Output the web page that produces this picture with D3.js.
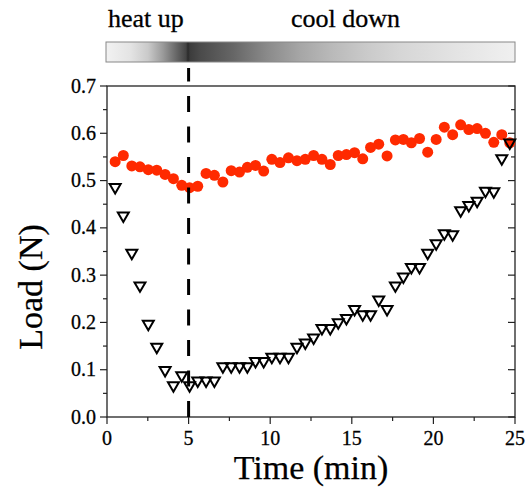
<!DOCTYPE html>
<html><head><meta charset="utf-8">
<script src="https://cdn.jsdelivr.net/npm/d3@7"></script>
<style>
html,body{margin:0;padding:0;background:#fff;}
svg{display:block;}
svg text{font-family:"Times New Roman","Liberation Serif",serif;fill:#000;stroke:#000;stroke-width:0.3px;}
svg text.title{stroke-width:0.25px;}
</style></head>
<body><svg id="chart" width="526" height="489"></svg>
<script>
// ---- data ----
const times = [0.5,1.0,1.52,2.02,2.53,3.05,3.56,4.07,4.58,5.06,5.56,6.07,6.58,7.10,7.61,8.12,8.6,9.1,9.6,10.1,10.6,11.12,11.64,12.15,12.66,13.17,13.68,14.17,14.67,15.17,15.67,16.15,16.65,17.16,17.67,18.16,18.65,19.15,19.65,20.17,20.67,21.18,21.67,22.17,22.68,23.19,23.7,24.19,24.68];
const loadCircles = [0.540,0.553,0.531,0.529,0.523,0.522,0.513,0.504,0.490,0.485,0.488,0.515,0.511,0.497,0.521,0.518,0.528,0.532,0.520,0.545,0.538,0.548,0.542,0.545,0.553,0.545,0.534,0.553,0.555,0.559,0.546,0.570,0.577,0.552,0.586,0.587,0.580,0.589,0.560,0.587,0.613,0.597,0.618,0.608,0.610,0.600,0.581,0.597,0.580];
const loadTriangles = [0.486,0.426,0.347,0.278,0.197,0.148,0.099,0.067,0.088,0.067,0.077,0.077,0.077,0.107,0.107,0.107,0.107,0.118,0.118,0.127,0.127,0.127,0.148,0.157,0.168,0.188,0.188,0.200,0.209,0.228,0.217,0.217,0.248,0.228,0.278,0.297,0.317,0.317,0.347,0.367,0.388,0.386,0.437,0.448,0.457,0.478,0.477,0.547,0.580];
const xTicks = [0,5,10,15,20,25];
const yTicks = [0.0,0.1,0.2,0.3,0.4,0.5,0.6,0.7];
const markerTime = 5;
const phaseLabels = ["heat up","cool down"];
const xTitle = "Time (min)";
const yTitle = "Load (N)";

// ---- layout ----
const FONT = "'Times New Roman', 'Liberation Serif', serif";
const L = 107, R = 515, T = 86, B = 417;
const svg = d3.select("#chart");
const x = d3.scaleLinear().domain([0,25]).range([L,R]);
const y = d3.scaleLinear().domain([0,0.7]).range([B,T]);

// gradient bar
const defs = svg.append("defs");
const grad = defs.append("linearGradient").attr("id","bar").attr("x1","0").attr("x2","1").attr("y1","0").attr("y2","0");
const barX0 = 106, barX1 = 515;
const stops = [[106,"#f2f2f2"],[130,"#e4e4e4"],[148,"#cacaca"],[163,"#9a9a9a"],[175,"#6c6c6c"],[186,"#444"],[188,"#2a2a2a"],[190,"#3c3c3c"],[200,"#4a4a4a"],[233,"#666"],[267,"#8a8a8a"],[300,"#a6a6a6"],[333,"#bababa"],[367,"#cacaca"],[400,"#d6d6d6"],[467,"#e6e6e6"],[515,"#f0f0f0"]];
stops.forEach(([px,c])=>grad.append("stop").attr("offset",((px-barX0)/(barX1-barX0)*100)+"%").attr("stop-color",c));
svg.append("rect").attr("x",barX0).attr("y",42).attr("width",barX1-barX0).attr("height",20)
  .attr("fill","url(#bar)").attr("stroke","#888").attr("stroke-width",1);

svg.append("text").attr("x",108).attr("y",27).style("font-family",FONT).attr("font-size",26).text(phaseLabels[0]);
svg.append("text").attr("x",291).attr("y",27).style("font-family",FONT).attr("font-size",26).text(phaseLabels[1]);

// frame
svg.append("rect").attr("x",L).attr("y",T).attr("width",R-L).attr("height",B-T)
  .attr("fill","none").attr("stroke","#222").attr("stroke-width",1.3);

// ticks
const g = svg.append("g").attr("stroke","#222").attr("stroke-width",1.2);
d3.range(0,0.7001,0.05).forEach((v,i)=>{
  const major = i%2===0;
  const len = major?7:4;
  g.append("line").attr("x1",L-len).attr("x2",L).attr("y1",y(v)).attr("y2",y(v));
  g.append("line").attr("x1",R-len).attr("x2",R).attr("y1",y(v)).attr("y2",y(v));
});
d3.range(0,25.001,2.5).forEach((v,i)=>{
  const major = i%2===0;
  const len = major?7:4;
  g.append("line").attr("x1",x(v)).attr("x2",x(v)).attr("y1",B).attr("y2",B+len);
});
svg.append("g").selectAll("text").data(yTicks).join("text")
  .attr("x",L-11).attr("y",d=>y(d)+6.5).attr("text-anchor","end").style("font-family",FONT).attr("font-size",20)
  .text(d=>d.toFixed(1));
svg.append("g").selectAll("text").data(xTicks).join("text")
  .attr("x",d=>x(d)).attr("y",B+28).attr("text-anchor","middle").style("font-family",FONT).attr("font-size",20)
  .text(d=>d);

// axis titles
svg.append("text").attr("class","title").attr("x",(L+R)/2).attr("y",479).attr("text-anchor","middle").style("font-family",FONT).attr("font-size",34).text(xTitle);
svg.append("text").attr("class","title").attr("transform",`translate(42,287) rotate(-90)`).attr("text-anchor","middle").style("font-family",FONT).attr("font-size",34).text(yTitle);

// circles
svg.append("g").selectAll("circle").data(times.map((t,i)=>[t,loadCircles[i]])).join("circle")
  .attr("cx",d=>x(d[0])).attr("cy",d=>y(d[1])).attr("r",5.5).attr("fill","#ff2a00");

// dashed marker line
svg.append("line").attr("x1",x(markerTime)).attr("x2",x(markerTime)).attr("y1",B).attr("y2",68)
  .attr("stroke","#000").attr("stroke-width",3).attr("stroke-dasharray","16,14.5");

// triangles
const tri = d3.symbol().type(d3.symbolTriangle).size(52);
svg.append("g").selectAll("path").data(times.map((t,i)=>[t,loadTriangles[i]])).join("path")
  .attr("d",tri).attr("transform",d=>`translate(${x(d[0])},${y(d[1])}) rotate(180)`)
  .attr("fill","none").attr("stroke","#000").attr("stroke-width",2);
</script></body></html>
